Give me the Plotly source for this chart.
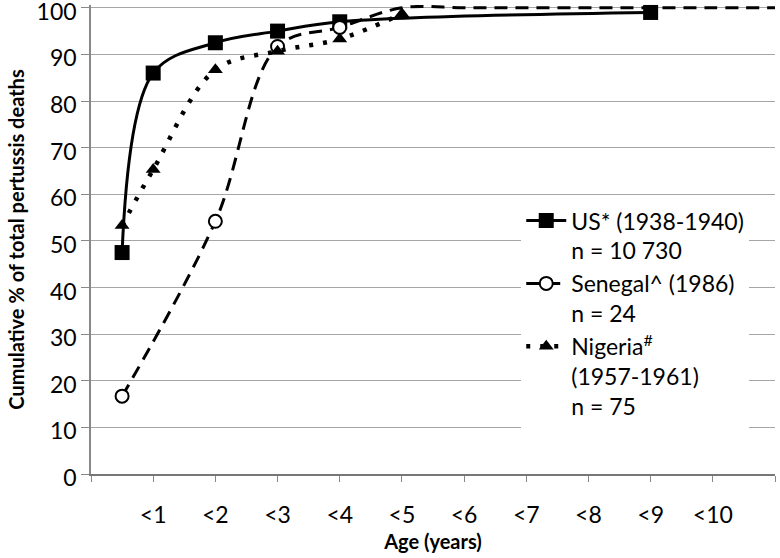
import plotly.graph_objects as go

# ---- data ----
tick_positions = [0, 1, 2, 3, 4, 5, 6, 7, 8, 9, 10, 11]
tick_labels = ["", "<1", "<2", "<3", "<4", "<5", "<6", "<7", "<8", "<9", "<10", ""]

us_x = [0.5, 1, 2, 3, 4, 9]
us_y = [47.5, 86, 92.5, 95, 97, 99]

senegal_x = [0.5, 2, 3, 4, 5, 6, 7, 8, 9, 10, 11]
senegal_y = [16.7, 54.2, 91.7, 95.8, 100, 100, 100, 100, 100, 100, 100]

nigeria_x = [0.5, 1, 2, 3, 4, 5]
nigeria_y = [53.3, 65.3, 86.7, 90.7, 93.3, 98.7]

names = ["US* (1938-1940)<br>n = 10 730",
         "Senegal^ (1986)<br>n = 24",
         "Nigeria<sup>#</sup><br>(1957-1961)<br>n = 75"]

FONT = "Lato"

fig = go.Figure()

fig.add_trace(go.Scatter(
    x=us_x, y=us_y, name=names[0], mode="lines+markers",
    line=dict(color="black", width=3, shape="spline", smoothing=1),
    marker=dict(symbol="square", size=15, color="black"),
    cliponaxis=False,
))

# markers only shown where the series has not yet reached 100
sen_fill = ["white" if v < 100 else "rgba(0,0,0,0)" for v in senegal_y]
sen_edge = ["black" if v < 100 else "rgba(0,0,0,0)" for v in senegal_y]
fig.add_trace(go.Scatter(
    x=senegal_x, y=senegal_y, name=names[1], mode="lines+markers",
    line=dict(color="black", width=3, dash="13px,8px", shape="spline", smoothing=1),
    marker=dict(symbol="circle", size=13, color=sen_fill,
                line=dict(color=sen_edge, width=2)),
    cliponaxis=False,
))

fig.add_trace(go.Scatter(
    x=nigeria_x, y=nigeria_y, name=names[2], mode="lines+markers",
    line=dict(color="black", width=4.5, dash="4px,10px", shape="spline", smoothing=1),
    marker=dict(symbol="triangle-up", size=13, color="black"),
    cliponaxis=False,
))

fig.update_layout(
    width=780, height=558,
    margin=dict(l=91, r=5, t=5, b=84, autoexpand=False),
    paper_bgcolor="white", plot_bgcolor="white",
    font=dict(family=FONT, color="black", size=22),
    showlegend=True,
    legend=dict(
        x=0.629, y=0.586, xanchor="left", yanchor="top",
        bgcolor="white", borderwidth=0,
        font=dict(family=FONT, size=23, color="black"),
        valign="top", tracegroupgap=8, itemwidth=40,
    ),
    xaxis=dict(
        range=[0, 11], tickmode="array", tickvals=tick_positions, ticktext=tick_labels,
        showgrid=False, zeroline=False, automargin=False,
        showline=True, linecolor="#777777", linewidth=1.5,
        ticks="outside", ticklen=6, tickcolor="#888888", tickwidth=1,
        ticklabelstandoff=14,
        tickfont=dict(family=FONT, size=23, color="black"),
        title=dict(text="<b>Age (years)</b>", font=dict(family=FONT, size=20, color="black"), standoff=8),
    ),
    yaxis=dict(
        range=[0, 100.6], tickmode="array", tickvals=list(range(0, 101, 10)),
        showgrid=True, gridcolor="#a6a6a6", gridwidth=1.2,
        zeroline=False, automargin=False,
        showline=True, linecolor="#888888", linewidth=1.5,
        ticks="outside", ticklen=8, tickcolor="#888888", tickwidth=1,
        ticklabeloverflow="allow", ticklabelshift=4,
        tickfont=dict(family=FONT, size=23, color="black"),
        title=dict(text="<b>Cumulative % of total pertussis deaths</b>",
                   font=dict(family=FONT, size=20, color="black"), standoff=7),
    ),
)

fig.write_html("out.html", config={"displayModeBar": False},
               post_script="document.body.style.margin='0';document.body.style.overflow='hidden';")
